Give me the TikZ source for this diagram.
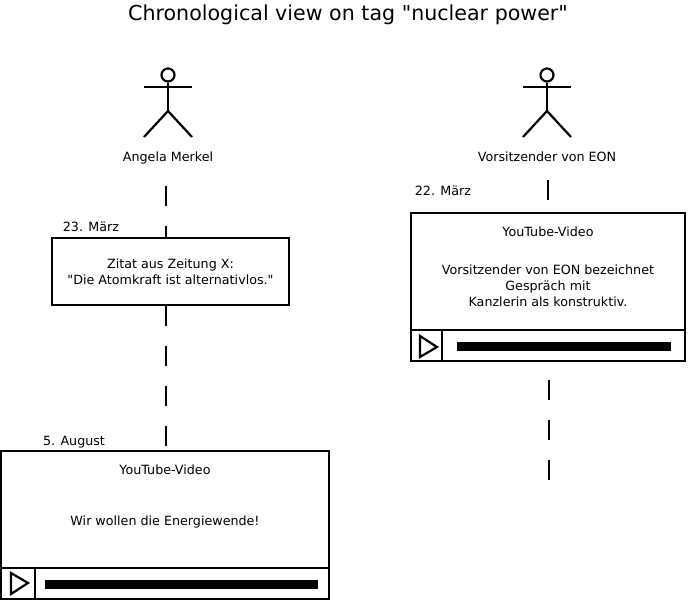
\documentclass[tikz,border=0pt]{standalone}
\usepackage{fontspec}
\newfontfamily\plainfont{DejaVu Sans}
\usetikzlibrary{positioning, calc}

\begin{document}
\begin{tikzpicture}[
  x=1pt, y=-1pt,
  label/.style={inner sep=0pt, font=\plainfont\fontsize{12.7}{16}\selectfont, align=center},
  post/.style={draw, line width=2.2pt, outer sep=0pt, anchor=north west},
  limb/.style={line width=2.2pt},
  lifeline/.style={line width=2.2pt, dash pattern=on 20pt off 20pt},
  playbar/.style={line width=9pt}
]
\useasboundingbox (0,0) rectangle (688,601);

\node[inner sep=0pt, font=\plainfont\fontsize{20.6}{24}\selectfont] (title) at (348,15) {Chronological view on tag "nuclear power"};

% actors
\node[draw, circle, limb, inner sep=0pt, minimum size=13pt] (head1) at (168,75) {};
\coordinate (hip1) at (168,111);
\coordinate (armL1) at (144,87);
\coordinate (armR1) at (192,87);
\coordinate (footL1) at (144,137);
\coordinate (footR1) at (192,137);
\draw[limb] (head1) -- (hip1);
\draw[limb] (armL1) -- (armR1);
\draw[limb] (footL1) -- (hip1) -- (footR1);
\node[label] (name1) at (168,157.5) {Angela Merkel};

\node[draw, circle, limb, inner sep=0pt, minimum size=13pt] (head2) at (547,75) {};
\coordinate (hip2) at (547,111);
\coordinate (armL2) at (523,87);
\coordinate (armR2) at (571,87);
\coordinate (footL2) at (523,137);
\coordinate (footR2) at (571,137);
\draw[limb] (head2) -- (hip2);
\draw[limb] (armL2) -- (armR2);
\draw[limb] (footL2) -- (hip2) -- (footR2);
\node[label] (name2) at (547,157) {Vorsitzender von EON};

% left column
\node[label] (date1) at (91,227) {23. März};
\node[post, minimum width=237pt, minimum height=67pt] (quote) at (52,238) {};
\node[label] (quotetext) at (170.5,271.5) {Zitat aus Zeitung X:\\"Die Atomkraft ist alternativlos."};

\node[label] (date2) at (74,442) {5. August};
\node[post, minimum width=328pt, minimum height=148pt] (video1) at (1,451) {};
\node[label] (video1head) at (165,470) {YouTube-Video};
\node[label] (video1text) at (165,522) {Wir wollen die Energiewende!};
\coordinate (tri1A) at (11,573);
\coordinate (tri1B) at (28,583);
\coordinate (tri1C) at (11,594);
\coordinate (bar1) at (1,568);
\coordinate (sep1) at (35,568);
\coordinate (prog1W) at (45,584);
\coordinate (prog1E) at (318,584);
\draw[limb] (bar1) -- (bar1 -| video1.east);
\draw[limb] (sep1) -- (sep1 |- video1.south);
\draw[limb] (tri1A) -- (tri1B) -- (tri1C) -- cycle;
\draw[playbar] (prog1W) -- (prog1E);

% right column
\node[label] (date3) at (443,191) {22. März};
\node[post, minimum width=274pt, minimum height=148pt] (video2) at (411,213) {};
\node[label] (video2head) at (548,232) {YouTube-Video};
\node[label] (video2text) at (548,286) {Vorsitzender von EON bezeichnet\\Gespräch mit\\Kanzlerin als konstruktiv.};
\coordinate (tri2A) at (420,336);
\coordinate (tri2B) at (437,347);
\coordinate (tri2C) at (420,357);
\coordinate (bar2) at (411,330);
\coordinate (sep2) at (442,330);
\coordinate (prog2W) at (457,347);
\coordinate (prog2E) at (671,347);
\draw[limb] (bar2) -- (bar2 -| video2.east);
\draw[limb] (sep2) -- (sep2 |- video2.south);
\draw[limb] (tri2A) -- (tri2B) -- (tri2C) -- cycle;
\draw[playbar] (prog2W) -- (prog2E);

% lifelines
\coordinate (life1) at (166,186);
\coordinate (life2) at (548,180);
\coordinate (life3) at (549,361);
\coordinate (life3end) at (549,480);
\draw[lifeline] (life1) -- (life1 |- quote.north);
\draw[lifeline] (life1 |- quote.south) ++(0,1) -- (life1 |- video1.north);
\draw[lifeline] (life2) -- (life2 |- video2.north);
\draw[lifeline, dash phase=21pt] (life3) -- (life3end);
\end{tikzpicture}
\end{document}
